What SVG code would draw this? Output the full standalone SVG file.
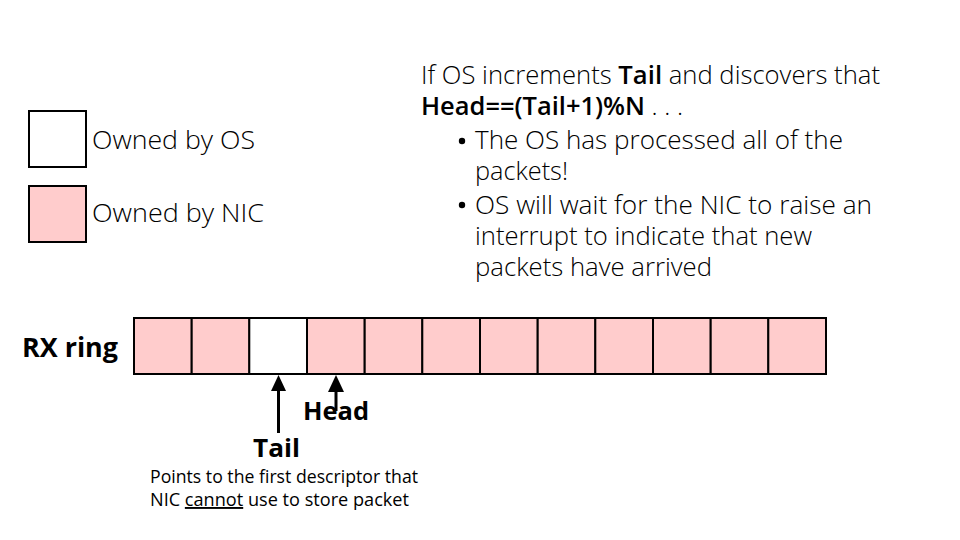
<svg xmlns="http://www.w3.org/2000/svg" width="960" height="540" viewBox="0 0 960 540">
<style>
.lt{font-family:"Open Sans","Liberation Sans",sans-serif;font-weight:300;font-size:26px;fill:#000}
.bd{font-family:"Open Sans","Liberation Sans",sans-serif;font-weight:700;fill:#000}
.cap{font-family:"Open Sans","Liberation Sans",sans-serif;font-weight:400;font-size:19px;fill:#000}
.nic{fill:#FFCCCC;stroke:#000;stroke-width:2}
.os{fill:#FFFFFF;stroke:#000;stroke-width:2}
.ar{stroke:#000;stroke-width:3;fill:none}
.ah{fill:#000}
</style>
<rect width="960" height="540" fill="#fff"/>
<g id="legend-os">
<rect class="os" x="29" y="111" width="57" height="56"/>
<text class="lt" x="92" y="149" textLength="163" lengthAdjust="spacingAndGlyphs">Owned by OS</text>
</g>
<g id="legend-nic">
<rect class="nic" x="29" y="186" width="57" height="56"/>
<text class="lt" x="92" y="222" textLength="172" lengthAdjust="spacingAndGlyphs">Owned by NIC</text>
</g>
<g id="note">
<text class="lt" x="421" y="84" textLength="459" lengthAdjust="spacingAndGlyphs">If OS increments <tspan font-weight="600">Tail</tspan> and discovers that</text>
<text class="lt" x="421" y="115" textLength="262" lengthAdjust="spacingAndGlyphs"><tspan font-weight="600">Head==(Tail+1)%N</tspan> . . .</text>
<circle cx="462" cy="141" r="3.2" fill="#000"/>
<text class="lt" x="475" y="149" textLength="368" lengthAdjust="spacingAndGlyphs">The OS has processed all of the</text>
<text class="lt" x="475" y="180" textLength="93" lengthAdjust="spacingAndGlyphs">packets!</text>
<circle cx="462" cy="205" r="3.2" fill="#000"/>
<text class="lt" x="475" y="214" textLength="397" lengthAdjust="spacingAndGlyphs">OS will wait for the NIC to raise an</text>
<text class="lt" x="475" y="245" textLength="337" lengthAdjust="spacingAndGlyphs">interrupt to indicate that new</text>
<text class="lt" x="475" y="276" textLength="237" lengthAdjust="spacingAndGlyphs">packets have arrived</text>
</g>
<g id="rx-ring">
<text class="bd" x="22" y="357" font-size="26" textLength="96" lengthAdjust="spacingAndGlyphs">RX ring</text>
<rect class="nic" x="134" y="318" width="57.7" height="56"/>
<rect class="nic" x="191.7" y="318" width="57.7" height="56"/>
<rect class="os" x="249.3" y="318" width="57.7" height="56"/>
<rect class="nic" x="307" y="318" width="57.7" height="56"/>
<rect class="nic" x="364.7" y="318" width="57.7" height="56"/>
<rect class="nic" x="422.3" y="318" width="57.7" height="56"/>
<rect class="nic" x="480" y="318" width="57.7" height="56"/>
<rect class="nic" x="537.7" y="318" width="57.7" height="56"/>
<rect class="nic" x="595.3" y="318" width="57.7" height="56"/>
<rect class="nic" x="653" y="318" width="57.7" height="56"/>
<rect class="nic" x="710.7" y="318" width="57.7" height="56"/>
<rect class="nic" x="768.3" y="318" width="57.7" height="56"/>
</g>
<g id="connectors">
<line class="ar" x1="278.5" y1="433" x2="278.5" y2="388"/>
<polygon class="ah" points="278.5,375 286,391 271,391"/>
<line class="ar" x1="336" y1="411" x2="336" y2="389"/>
<polygon class="ah" points="336,375 344,392 328,392"/>
</g>
<g id="head-label">
<text class="bd" x="303" y="420" font-size="25" textLength="66" lengthAdjust="spacingAndGlyphs">Head</text>
</g>
<g id="tail-label">
<text class="bd" x="253" y="457" font-size="25" textLength="47" lengthAdjust="spacingAndGlyphs">Tail</text>
<text class="cap" x="150" y="483" textLength="268" lengthAdjust="spacingAndGlyphs">Points to the first descriptor that</text>
<text class="cap" x="150" y="506" textLength="259" lengthAdjust="spacingAndGlyphs">NIC <tspan text-decoration="underline">cannot</tspan> use to store packet</text>
</g>
</svg>
